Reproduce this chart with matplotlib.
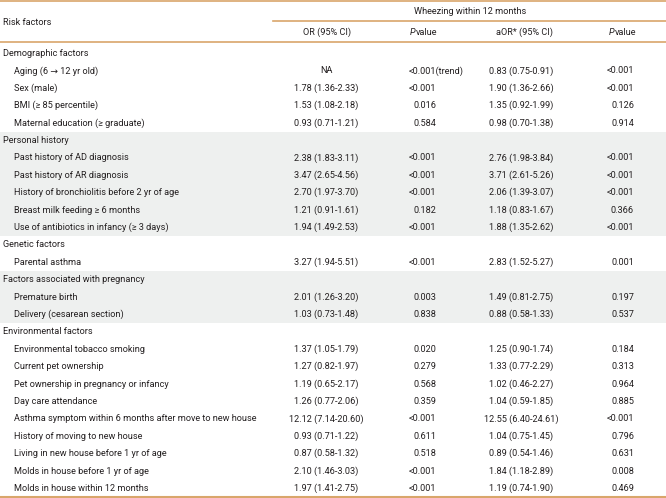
import matplotlib.pyplot as plt
from matplotlib.patches import Rectangle

plt.rcParams['font.family'] = ['Roboto', 'DejaVu Sans']

# table content
groups = ["Demographic factors", "Personal history", "Genetic factors",
          "Factors associated with pregnancy", "Environmental factors"]

factors = [
    ["Aging (6 \u2192 12 yr old)", "Sex (male)", "BMI (\u2265 85 percentile)",
     "Maternal education (\u2265 graduate)"],
    ["Past history of AD diagnosis", "Past history of AR diagnosis",
     "History of bronchiolitis before 2 yr of age", "Breast milk feeding \u2265 6 months",
     "Use of antibiotics in infancy (\u2265 3 days)"],
    ["Parental asthma"],
    ["Premature birth", "Delivery (cesarean section)"],
    ["Environmental tobacco smoking", "Current pet ownership",
     "Pet ownership in pregnancy or infancy", "Day care attendance",
     "Asthma symptom within 6 months after move to new house",
     "History of moving to new house", "Living in new house before 1 yr of age",
     "Molds in house before 1 yr of age", "Molds in house within 12 months"],
]

or_ci = [
    ["NA", "1.78 (1.36-2.33)", "1.53 (1.08-2.18)", "0.93 (0.71-1.21)"],
    ["2.38 (1.83-3.11)", "3.47 (2.65-4.56)", "2.70 (1.97-3.70)", "1.21 (0.91-1.61)",
     "1.94 (1.49-2.53)"],
    ["3.27 (1.94-5.51)"],
    ["2.01 (1.26-3.20)", "1.03 (0.73-1.48)"],
    ["1.37 (1.05-1.79)", "1.27 (0.82-1.97)", "1.19 (0.65-2.17)", "1.26 (0.77-2.06)",
     "12.12 (7.14-20.60)", "0.93 (0.71-1.22)", "0.87 (0.58-1.32)", "2.10 (1.46-3.03)",
     "1.97 (1.41-2.75)"],
]

p_or = [
    ["<0.001(trend)", "<0.001", "0.016", "0.584"],
    ["<0.001", "<0.001", "<0.001", "0.182", "<0.001"],
    ["<0.001"],
    ["0.003", "0.838"],
    ["0.020", "0.279", "0.568", "0.359", "<0.001", "0.611", "0.518", "<0.001", "<0.001"],
]

aor_ci = [
    ["0.83 (0.75-0.91)", "1.90 (1.36-2.66)", "1.35 (0.92-1.99)", "0.98 (0.70-1.38)"],
    ["2.76 (1.98-3.84)", "3.71 (2.61-5.26)", "2.06 (1.39-3.07)", "1.18 (0.83-1.67)",
     "1.88 (1.35-2.62)"],
    ["2.83 (1.52-5.27)"],
    ["1.49 (0.81-2.75)", "0.88 (0.58-1.33)"],
    ["1.25 (0.90-1.74)", "1.33 (0.77-2.29)", "1.02 (0.46-2.27)", "1.04 (0.59-1.85)",
     "12.55 (6.40-24.61)", "1.04 (0.75-1.45)", "0.89 (0.54-1.46)", "1.84 (1.18-2.89)",
     "1.19 (0.74-1.90)"],
]

p_aor = [
    ["<0.001", "<0.001", "0.126", "0.914"],
    ["<0.001", "<0.001", "<0.001", "0.366", "<0.001"],
    ["0.001"],
    ["0.197", "0.537"],
    ["0.184", "0.313", "0.964", "0.885", "<0.001", "0.796", "0.631", "0.008", "0.469"],
]

shaded = [False, True, False, True, False]

W, H = 666, 498
fs = 6.6
tc = '#231f20'
line_c = '#d9a66b'
gray = '#eef0ef'

fig = plt.figure(figsize=(W / 100, H / 100), dpi=100)
ax = fig.add_axes([0, 0, 1, 1])
ax.set_xlim(0, W)
ax.set_ylim(H, 0)
ax.axis('off')

y0 = 53.5
step = 17.4

# header
ax.text(3, 22, "Risk factors", fontsize=fs, color=tc, va='center')
ax.text(470, 11, "Wheezing within 12 months", fontsize=fs, color=tc, va='center', ha='center')
ax.text(327, 32, "OR (95% CI)", fontsize=fs, color=tc, va='center', ha='center')
ax.text(524, 32, "aOR* (95% CI)", fontsize=fs, color=tc, va='center', ha='center')
for xp in [410, 609]:
    ax.text(xp, 32, "P", fontsize=fs, color=tc, va='center', style='italic')
    ax.text(xp + 6, 32, "value", fontsize=fs, color=tc, va='center')

row = 0
for g in range(len(groups)):
    n = len(factors[g])
    if shaded[g]:
        top = y0 + step * (row - 0.5)
        ax.add_patch(Rectangle((0, top), W, step * (n + 1), color=gray, lw=0, zorder=0))
    ax.text(3, y0 + step * row, groups[g], fontsize=fs, color=tc, va='center')
    row += 1
    for i in range(n):
        yy = y0 + step * row
        ax.text(14, yy, factors[g][i], fontsize=fs, color=tc, va='center')
        ax.text(326, yy, or_ci[g][i], fontsize=fs, color=tc, va='center', ha='center')
        p = p_or[g][i]
        if 'trend' in p:
            ax.text(409, yy, p, fontsize=fs, color=tc, va='center', ha='left')
        else:
            ax.text(436, yy, p, fontsize=fs, color=tc, va='center', ha='right')
        ax.text(521, yy, aor_ci[g][i], fontsize=fs, color=tc, va='center', ha='center')
        ax.text(634, yy, p_aor[g][i], fontsize=fs, color=tc, va='center', ha='right')
        row += 1

# rules
ax.plot([0, W], [1, 1], color=line_c, lw=1.2)
ax.plot([273, W], [20.5, 20.5], color=line_c, lw=1.2)
ax.plot([0, W], [42, 42], color=line_c, lw=1.2)
ax.plot([0, W], [496.5, 496.5], color=line_c, lw=1.5)

fig.savefig("out.png", dpi=100)
